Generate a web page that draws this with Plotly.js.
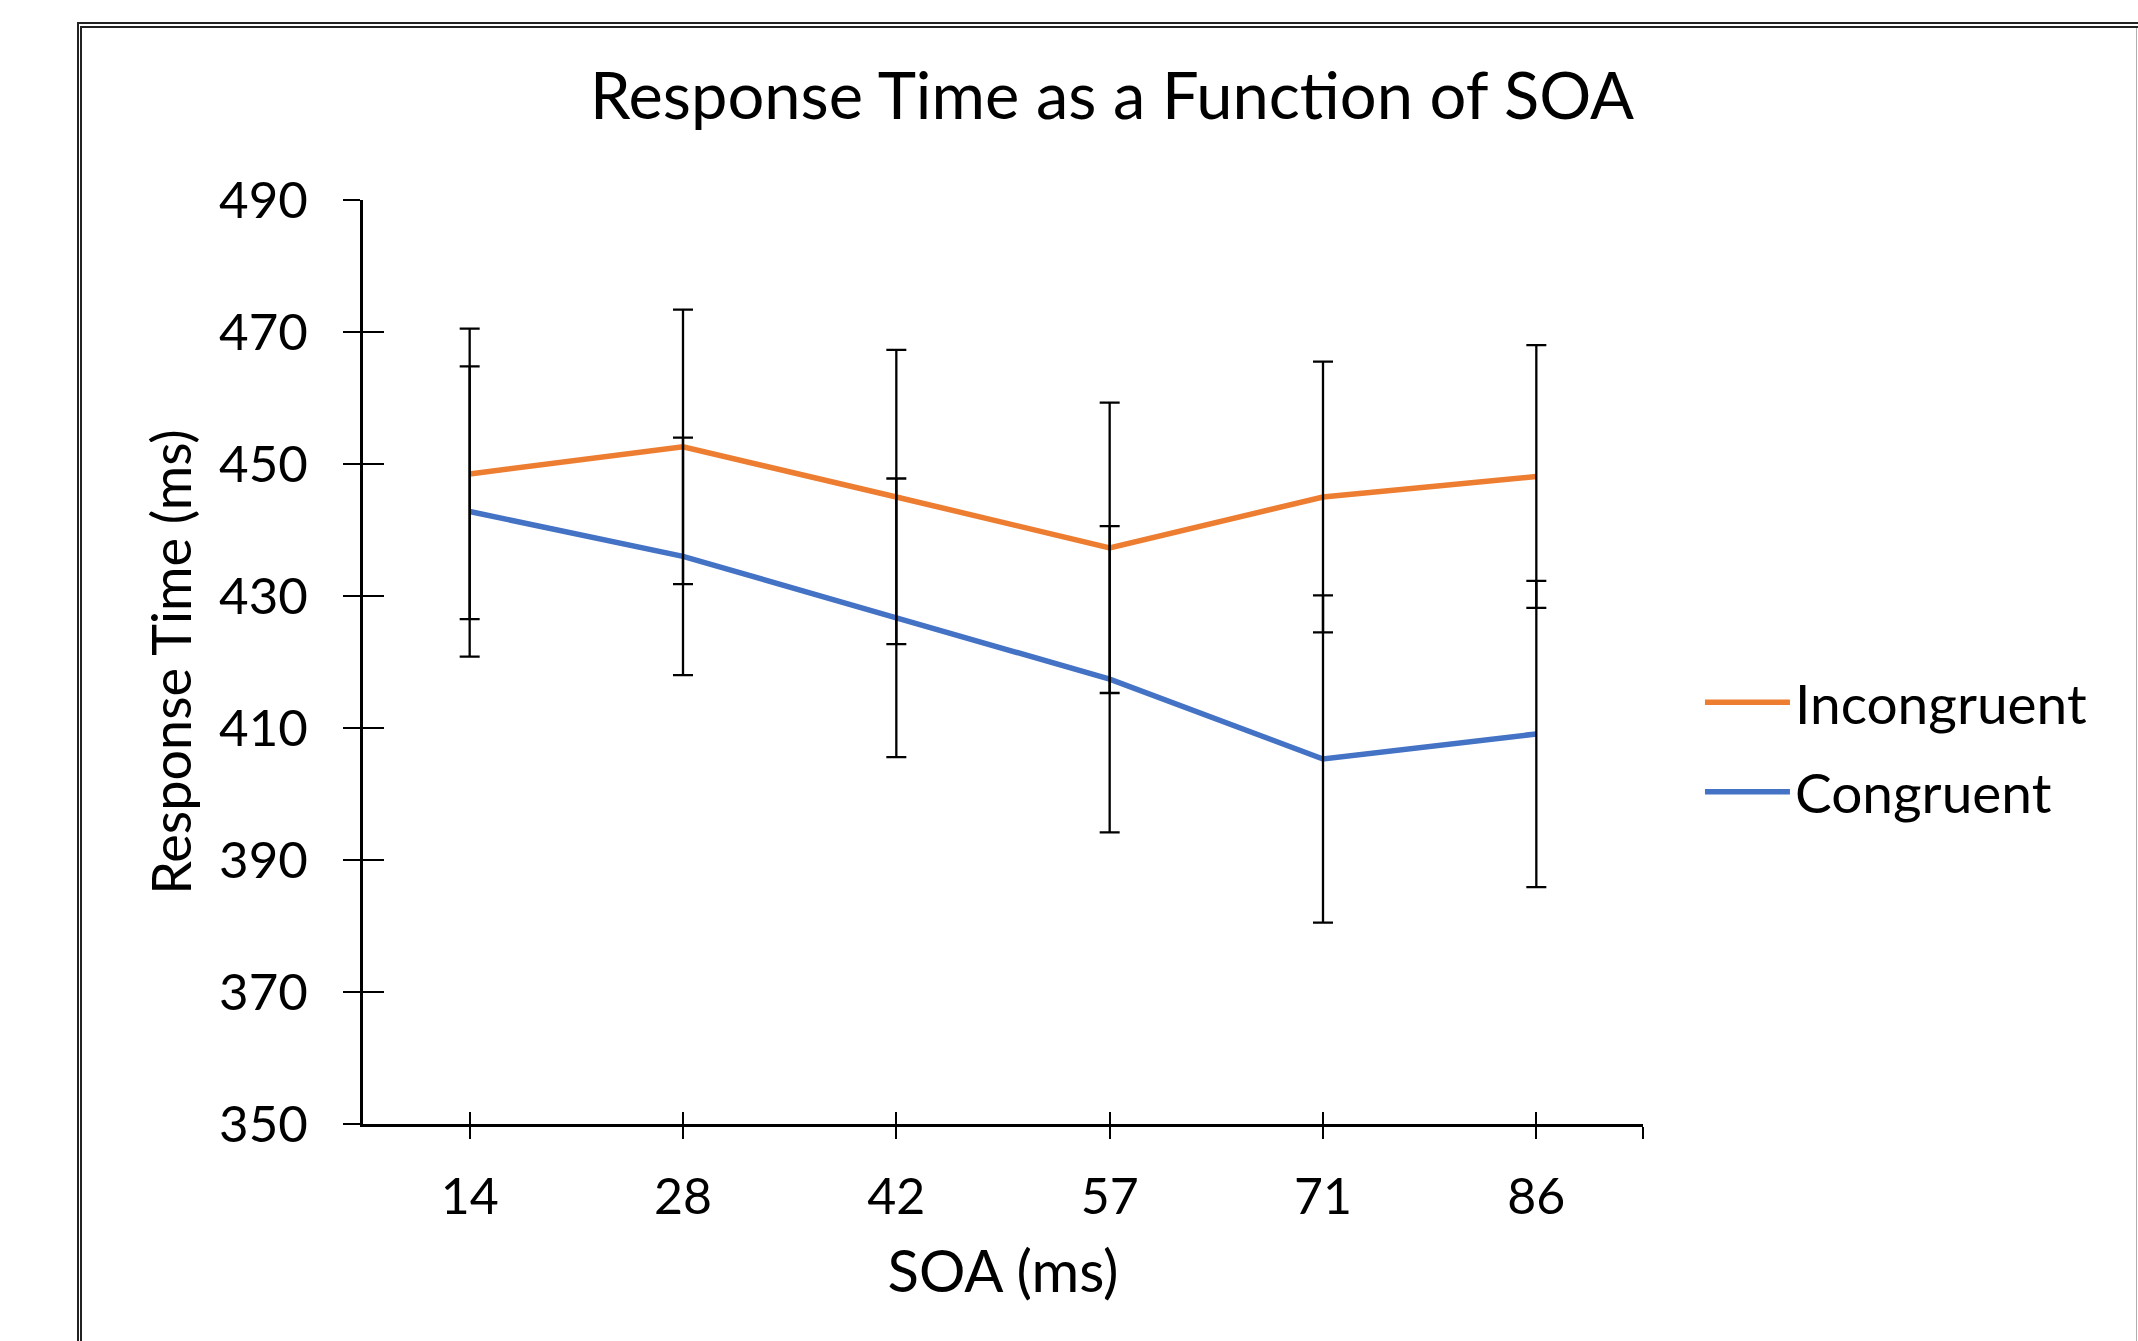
<!DOCTYPE html>
<html>
<head>
<meta charset="utf-8">
<script src="https://cdn.plot.ly/plotly-3.0.1.min.js"></script>
<style>
  html, body { margin: 0; padding: 0; background: #fff; }
  #wrap { position: relative; width: 2138px; height: 1341px; overflow: hidden; }
  #chart { position: absolute; left: 0; top: 0; width: 2138px; height: 1341px; }
  #frame {
    position: absolute; left: 77px; top: 22px; width: 2200px; height: 1400px;
    border-left: 5px double #222; border-top: 6px double #222;
    pointer-events: none; z-index: 5;
  }
  #rightedge {
    position: absolute; left: 2136px; top: 28px; width: 1px; height: 1320px;
    background: #b0b0b0; pointer-events: none; z-index: 5;
  }
</style>
</head>
<body>
<div id="wrap">
  <div id="chart"></div>
  <div id="frame"></div>
  <div id="rightedge"></div>
</div>
<script>
// ---- Data ----
const soaLabels = ['14', '28', '42', '57', '71', '86'];
const incongruentRT = [448.5, 452.6, 445.0, 437.3, 445.0, 448.1];
const incongruentErr = [22.0, 20.8, 22.3, 22.0, 20.5, 19.9];
const congruentRT = [442.8, 436.0, 426.7, 417.4, 405.3, 409.1];
const congruentErr = [22.0, 18.0, 21.1, 23.2, 24.8, 23.2];
const yTicks = [350, 370, 390, 410, 430, 450, 470, 490];

const xPos = soaLabels.map((_, i) => i);
const xEnd = soaLabels.length - 0.5;

const FONT = 'Lato, "Open Sans", sans-serif';
const ORANGE = '#ED7D31';
const BLUE = '#4472C4';

const traces = [
  {
    x: xPos, y: incongruentRT, type: 'scatter', mode: 'lines', name: 'Incongruent',
    line: { color: ORANGE, width: 5.5 }, legendgroup: 'inc', hoverinfo: 'skip'
  },
  {
    x: xPos, y: congruentRT, type: 'scatter', mode: 'lines', name: 'Congruent',
    line: { color: BLUE, width: 5.5 }, legendgroup: 'con', hoverinfo: 'skip'
  },
  {
    x: xPos, y: incongruentRT, type: 'scatter', mode: 'markers', showlegend: false,
    xaxis: 'x2', yaxis: 'y2', marker: { opacity: 0, size: 1 }, hoverinfo: 'skip',
    error_y: { type: 'data', array: incongruentErr, visible: true, color: '#000', thickness: 2.3, width: 10 }
  },
  {
    x: xPos, y: congruentRT, type: 'scatter', mode: 'markers', showlegend: false,
    xaxis: 'x2', yaxis: 'y2', marker: { opacity: 0, size: 1 }, hoverinfo: 'skip',
    error_y: { type: 'data', array: congruentErr, visible: true, color: '#000', thickness: 2.3, width: 10 }
  }
];

const xRange = [-0.5, xEnd];
const yRange = [350, 490];

const layout = {
  width: 2138, height: 1341,
  paper_bgcolor: 'rgba(0,0,0,0)', plot_bgcolor: 'rgba(0,0,0,0)',
  margin: { l: 363, r: 495, t: 200, b: 217 },
  font: { family: FONT, color: '#000' },
  title: {
    text: 'Response Time as a Function of SOA',
    font: { family: FONT, size: 65, color: '#000' },
    x: 0.5201, xref: 'container', xanchor: 'center',
    y: 1 - 96 / 1341, yref: 'container', yanchor: 'middle'
  },
  showlegend: true,
  legend: {
    x: 1.0445, xanchor: 'left', y: 0.408, yanchor: 'middle',
    font: { family: FONT, size: 55, color: '#000' },
    bgcolor: 'rgba(0,0,0,0)', tracegroupgap: 15, itemwidth: 85
  },
  xaxis: {
    range: xRange, fixedrange: true,
    tickmode: 'array', tickvals: xPos.concat([xEnd]), ticktext: soaLabels.concat(['']),
    ticks: 'outside', ticklen: 12, tickwidth: 2.3, tickcolor: '#000',
    showline: true, linecolor: '#000', linewidth: 3,
    showgrid: false, zeroline: false,
    tickfont: { family: FONT, size: 50, color: '#000' },
    ticklabelstandoff: 15,
    title: { text: 'SOA (ms)', font: { family: FONT, size: 58, color: '#000' }, standoff: 28 }
  },
  yaxis: {
    range: yRange, fixedrange: true,
    tickmode: 'array', tickvals: yTicks,
    ticks: 'outside', ticklen: 17, tickwidth: 2.3, tickcolor: '#000',
    showline: true, linecolor: '#000', linewidth: 3,
    showgrid: false, zeroline: false,
    tickfont: { family: FONT, size: 51, color: '#000' },
    ticklabelstandoff: 25,
    title: { text: 'Response Time (ms)', font: { family: FONT, size: 54, color: '#000' }, standoff: 11 }
  },
  xaxis2: {
    overlaying: 'x', anchor: 'y2', range: xRange, fixedrange: true,
    tickmode: 'array', tickvals: xPos.concat([xEnd]),
    ticks: 'inside', ticklen: 12, tickwidth: 2.3, tickcolor: '#000',
    showticklabels: false, showline: false, showgrid: false, zeroline: false
  },
  yaxis2: {
    overlaying: 'y', anchor: 'x2', side: 'left', range: yRange, fixedrange: true,
    tickmode: 'array', tickvals: yTicks,
    ticks: 'inside', ticklen: 21, tickwidth: 2.3, tickcolor: '#000',
    showticklabels: false, showline: false, showgrid: false, zeroline: false
  }
};

Plotly.newPlot('chart', traces, layout, { displayModeBar: false, staticPlot: true });
</script>
</body>
</html>
